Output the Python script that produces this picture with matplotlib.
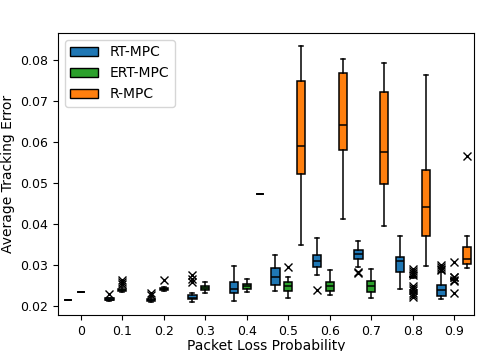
"""Box plots of average tracking error vs packet loss probability for three MPC variants."""
import matplotlib
matplotlib.use("Agg")
import matplotlib.pyplot as plt
from matplotlib.patches import Patch

plt.rcParams["font.size"] = 10
plt.rcParams["xtick.labelsize"] = 9
plt.rcParams["ytick.labelsize"] = 9

loss = ["0", "0.1", "0.2", "0.3", "0.4", "0.5", "0.6", "0.7", "0.8", "0.9"]
methods = ["RT-MPC", "ERT-MPC", "R-MPC"]
colors = ["#1f77b4", "#2ca02c", "#ff7f0e"]

# per-method box statistics, one entry per loss level (None = no box drawn)
rt_lo = [0.0213, 0.0211, 0.0209, 0.0210, 0.0212, 0.0235, 0.0274, 0.0294, 0.0241, 0.0216]
rt_q1 = [0.0213, 0.0213, 0.0212, 0.0216, 0.0230, 0.0251, 0.0294, 0.0314, 0.0282, 0.0224]
rt_med = [0.0213, 0.0215, 0.0214, 0.0220, 0.0240, 0.0271, 0.0309, 0.0326, 0.0310, 0.0238]
rt_q3 = [0.0213, 0.0218, 0.0217, 0.0226, 0.0257, 0.0292, 0.0324, 0.0336, 0.0320, 0.0250]
rt_hi = [0.0213, 0.0220, 0.0222, 0.0232, 0.0297, 0.0324, 0.0364, 0.0358, 0.0371, 0.0283]
rt_fl = [[], [0.0228], [0.0226, 0.0230], [0.0259, 0.0266, 0.0274], [], [],
         [0.0239], [0.0279, 0.0283], [], [0.0286, 0.0290, 0.0295, 0.0299]]

ert_lo = [0.0233, 0.0233, 0.0236, 0.0231, 0.0233, 0.0220, 0.0225, 0.0219, 0.0268, 0.0262]
ert_q1 = [0.0233, 0.0235, 0.0238, 0.0238, 0.0240, 0.0237, 0.0235, 0.0233, 0.0269, 0.0264]
ert_med = [0.0233, 0.0238, 0.0241, 0.0243, 0.0247, 0.0247, 0.0247, 0.0247, 0.0270, 0.0265]
ert_q3 = [0.0233, 0.0242, 0.0244, 0.0249, 0.0254, 0.0259, 0.0259, 0.0261, 0.0271, 0.0266]
ert_hi = [0.0233, 0.0246, 0.0246, 0.0257, 0.0265, 0.0271, 0.0286, 0.0289, 0.0272, 0.0268]
ert_fl = [[], [0.0252, 0.0257, 0.0262], [0.0262], [], [], [0.0294], [], [],
          [0.0221, 0.0226, 0.0232, 0.0238, 0.0244, 0.0249, 0.0275, 0.0280, 0.0285, 0.0290],
          [0.0231, 0.0261, 0.0263, 0.0269, 0.0271, 0.0307]]

r_lo = [None, None, None, None, 0.0472, 0.0348, 0.0411, 0.0395, 0.0296, 0.0292]
r_q1 = [None, None, None, None, 0.0472, 0.0522, 0.0580, 0.0496, 0.0369, 0.0301]
r_med = [None, None, None, None, 0.0472, 0.0589, 0.0641, 0.0574, 0.0441, 0.0313]
r_q3 = [None, None, None, None, 0.0472, 0.0747, 0.0767, 0.0721, 0.0530, 0.0344]
r_hi = [None, None, None, None, 0.0472, 0.0834, 0.0803, 0.0792, 0.0764, 0.0369]
r_fl = [[], [], [], [], [], [], [], [], [], [0.0564]]

series = [
    (rt_lo, rt_q1, rt_med, rt_q3, rt_hi, rt_fl),
    (ert_lo, ert_q1, ert_med, ert_q3, ert_hi, ert_fl),
    (r_lo, r_q1, r_med, r_q3, r_hi, r_fl),
]
offsets = [-0.31, 0.0, 0.31]

fig = plt.figure(figsize=(4.79, 3.51), dpi=100)
ax = fig.add_axes([0.121, 0.103, 0.869, 0.803])

for (lo, q1, med, q3, hi, fl), off, col in zip(series, offsets, colors):
    stats, pos = [], []
    for i in range(len(loss)):
        if med[i] is None:
            continue
        stats.append(dict(whislo=lo[i], q1=q1[i], med=med[i], q3=q3[i],
                          whishi=hi[i], fliers=fl[i]))
        pos.append(i + off)
    ax.bxp(stats, positions=pos, widths=0.2, patch_artist=True, manage_ticks=False,
           boxprops=dict(facecolor=col, edgecolor="black", linewidth=1.1),
           medianprops=dict(color="black", linewidth=1.1),
           whiskerprops=dict(color="black", linewidth=1.1),
           capprops=dict(color="black", linewidth=1.1),
           flierprops=dict(marker="x", markeredgecolor="black", markersize=6,
                           linestyle="none"))

ax.set_xticks(range(len(loss)))
ax.set_xticklabels(loss)
ax.set_xlim(-0.55, 9.48)
ax.set_xlabel("Packet Loss Probability", labelpad=1)
ax.set_ylabel("Average Tracking Error")

handles = [Patch(facecolor=c, edgecolor="black", label=m) for m, c in zip(methods, colors)]
ax.legend(handles=handles, loc="upper left")

fig.savefig("out.png", dpi=100)
